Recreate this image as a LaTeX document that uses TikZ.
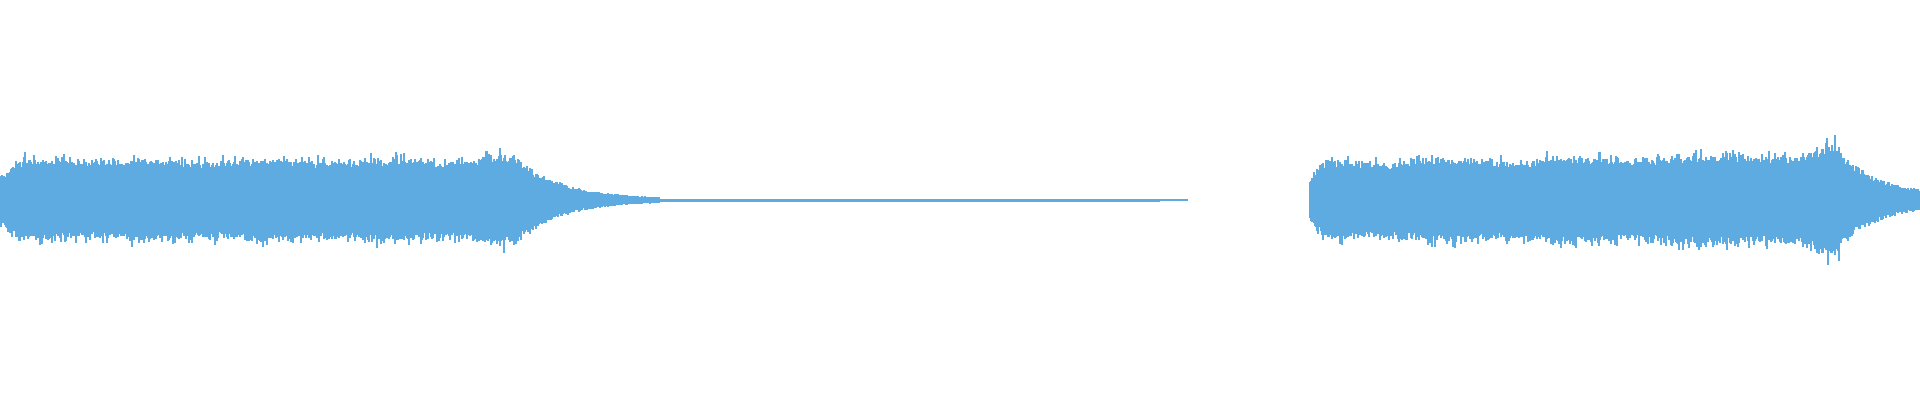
\documentclass[tikz,border=0pt]{standalone}
\usepackage{tikz}
\definecolor{wave}{HTML}{5DABE1}
\begin{document}
\begin{tikzpicture}[wav/.style={wave, line width=0.2mm}]
      \useasboundingbox (0,0) rectangle (19.2,4);
      \pgfmathsetseed{7}
      % first part
      \foreach \x in {0,0.012,...,5.14} {
        \pgfmathsetmacro{\a}{0.42*min(1,0.6+\x/0.6)*(1+0.04*sin(\x*300)+0.1*exp(-((\x-4.95)/0.2)^2))}
        \pgfmathsetmacro{\t}{\a*(0.78+0.15*rnd+0.2*rnd^4)}
        \pgfmathsetmacro{\b}{\a*(0.78+0.15*rnd+0.2*rnd^4)}
        \draw[wav] (\x, 2+\t) -- (\x, 2-\b);
      }
      % decay
      \foreach \x in {5.14,5.152,...,6.6} {
        \pgfmathsetmacro{\a}{0.44*exp(-(\x-5.14)*2.3)+0.015}
        \pgfmathsetmacro{\t}{\a*(0.8+0.25*rnd)}
        \pgfmathsetmacro{\b}{\a*(0.8+0.25*rnd)}
        \draw[wav] (\x, 2+\t) -- (\x, 2-\b);
      }
      % tail
      \draw[wave, line width=0.3mm] (6.6,2) -- (11.6,2);
      \draw[wave, line width=0.15mm] (11.6,2) -- (11.88,2);
      % second part
      \foreach \x in {13.1,13.112,...,18.4} {
        \pgfmathsetmacro{\a}{(0.4+0.08*(\x-13.1)/5.3+0.1*exp(-((\x-18.3)/0.15)^2))*min(1,0.5+(\x-13.1)/0.3)*(1+0.04*sin(\x*280))}
        \pgfmathsetmacro{\t}{\a*(0.78+0.15*rnd+0.2*rnd^4)}
        \pgfmathsetmacro{\b}{\a*(0.78+0.15*rnd+0.2*rnd^4)}
        \draw[wav] (\x, 2+\t) -- (\x, 2-\b);
      }
      % end decay
      \foreach \x in {18.4,18.412,...,19.2} {
        \pgfmathsetmacro{\a}{0.43*exp(-(\x-18.4)*2.4)+0.04}
        \pgfmathsetmacro{\t}{\a*(0.8+0.25*rnd)}
        \pgfmathsetmacro{\b}{\a*(0.8+0.25*rnd)}
        \draw[wav] (\x, 2+\t) -- (\x, 2-\b);
      }
    \end{tikzpicture}
\end{document}
